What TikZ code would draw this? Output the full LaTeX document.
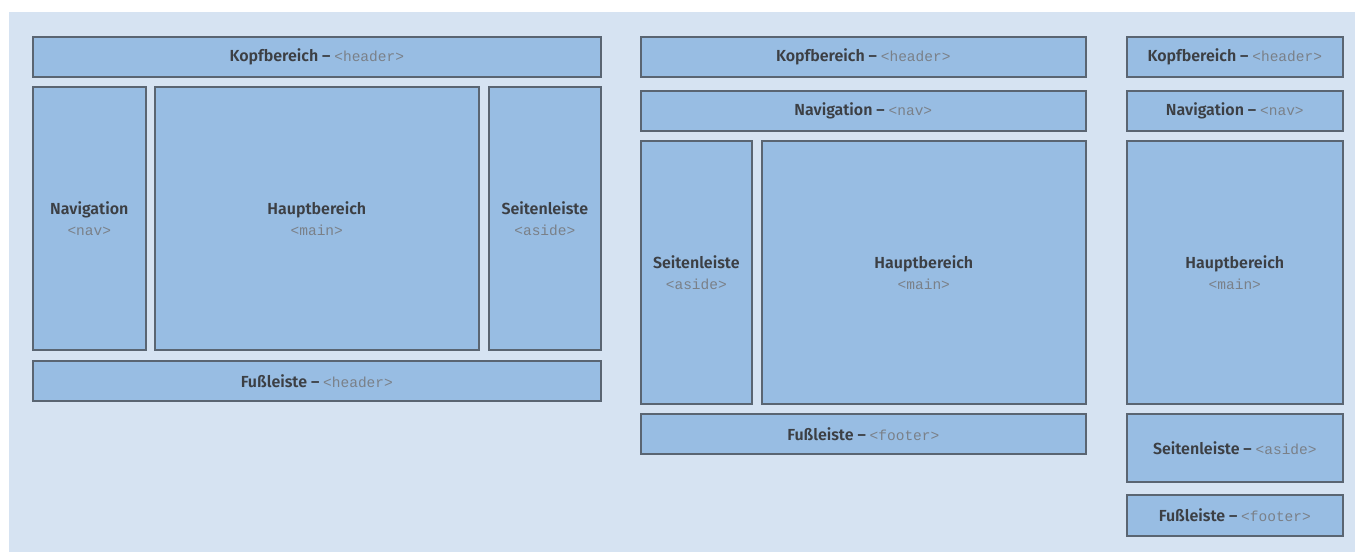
\documentclass[tikz,border=0pt]{standalone}
\usepackage{fontspec}
\setmainfont{Fira Sans}[BoldFont={Fira Sans SemiBold}]
\setmonofont{Liberation Mono}
\usepackage{xcolor}
\usetikzlibrary{positioning}

\definecolor{panelblau}{HTML}{D6E3F2}
\definecolor{boxblau}{HTML}{98BDE3}
\definecolor{randgrau}{HTML}{5A6572}
\definecolor{textgrau}{HTML}{3C3F44}
\definecolor{taggrau}{HTML}{7A8088}

\newcommand{\tg}[1]{{\ttfamily\mdseries\fontsize{14.5}{21}\selectfont\color{taggrau}<#1>}}

\begin{document}
\begin{tikzpicture}[x=1pt, y=-1pt,
    box/.style={draw=randgrau, line width=1.6pt, fill=boxblau, anchor=north west,
      inner sep=0pt, align=center, text=textgrau,
      font=\fontsize{16}{21}\selectfont\bfseries}]
   % Hintergrund
   \useasboundingbox (0,0) rectangle (1355,552);
   \fill[panelblau] (9,12) rectangle (1355,552);

   % Layout 1 (drei Spalten)
   \node[box, minimum width=568pt, minimum height=40pt] (kopf1) at (32,36) {Kopfbereich -- \tg{header}};
   \node[box, minimum width=113pt, minimum height=263pt] (nav1) at (32,86) {Navigation\\\tg{nav}};
   \node[box, minimum width=324pt, minimum height=263pt] (haupt1) at (154,86) {Hauptbereich\\\tg{main}};
   \node[box, minimum width=112pt, minimum height=263pt] (seite1) at (488,86) {Seitenleiste\\\tg{aside}};
   \node[box, minimum width=568pt, minimum height=40pt] (fuss1) at (32,360) {Fußleiste -- \tg{header}};

   % Layout 2 (zwei Spalten)
   \node[box, minimum width=445pt, minimum height=40pt] (kopf2) at (640,36) {Kopfbereich -- \tg{header}};
   \node[box, minimum width=445pt, minimum height=40pt] (nav2) at (640,90) {Navigation -- \tg{nav}};
   \node[box, minimum width=111pt, minimum height=263pt] (seite2) at (640,140) {Seitenleiste\\\tg{aside}};
   \node[box, minimum width=324pt, minimum height=263pt] (haupt2) at (761,140) {Hauptbereich\\\tg{main}};
   \node[box, minimum width=445pt, minimum height=40pt] (fuss2) at (640,413) {Fußleiste -- \tg{footer}};

   % Layout 3 (eine Spalte)
   \node[box, minimum width=216pt, minimum height=40pt] (kopf3) at (1126,36) {Kopfbereich -- \tg{header}};
   \node[box, minimum width=216pt, minimum height=40pt] (nav3) at (1126,90) {Navigation -- \tg{nav}};
   \node[box, minimum width=216pt, minimum height=263pt] (haupt3) at (1126,140) {Hauptbereich\\\tg{main}};
   \node[box, minimum width=216pt, minimum height=68pt] (seite3) at (1126,413) {Seitenleiste -- \tg{aside}};
   \node[box, minimum width=216pt, minimum height=41pt] (fuss3) at (1126,494) {Fußleiste -- \tg{footer}};
\end{tikzpicture}
\end{document}
